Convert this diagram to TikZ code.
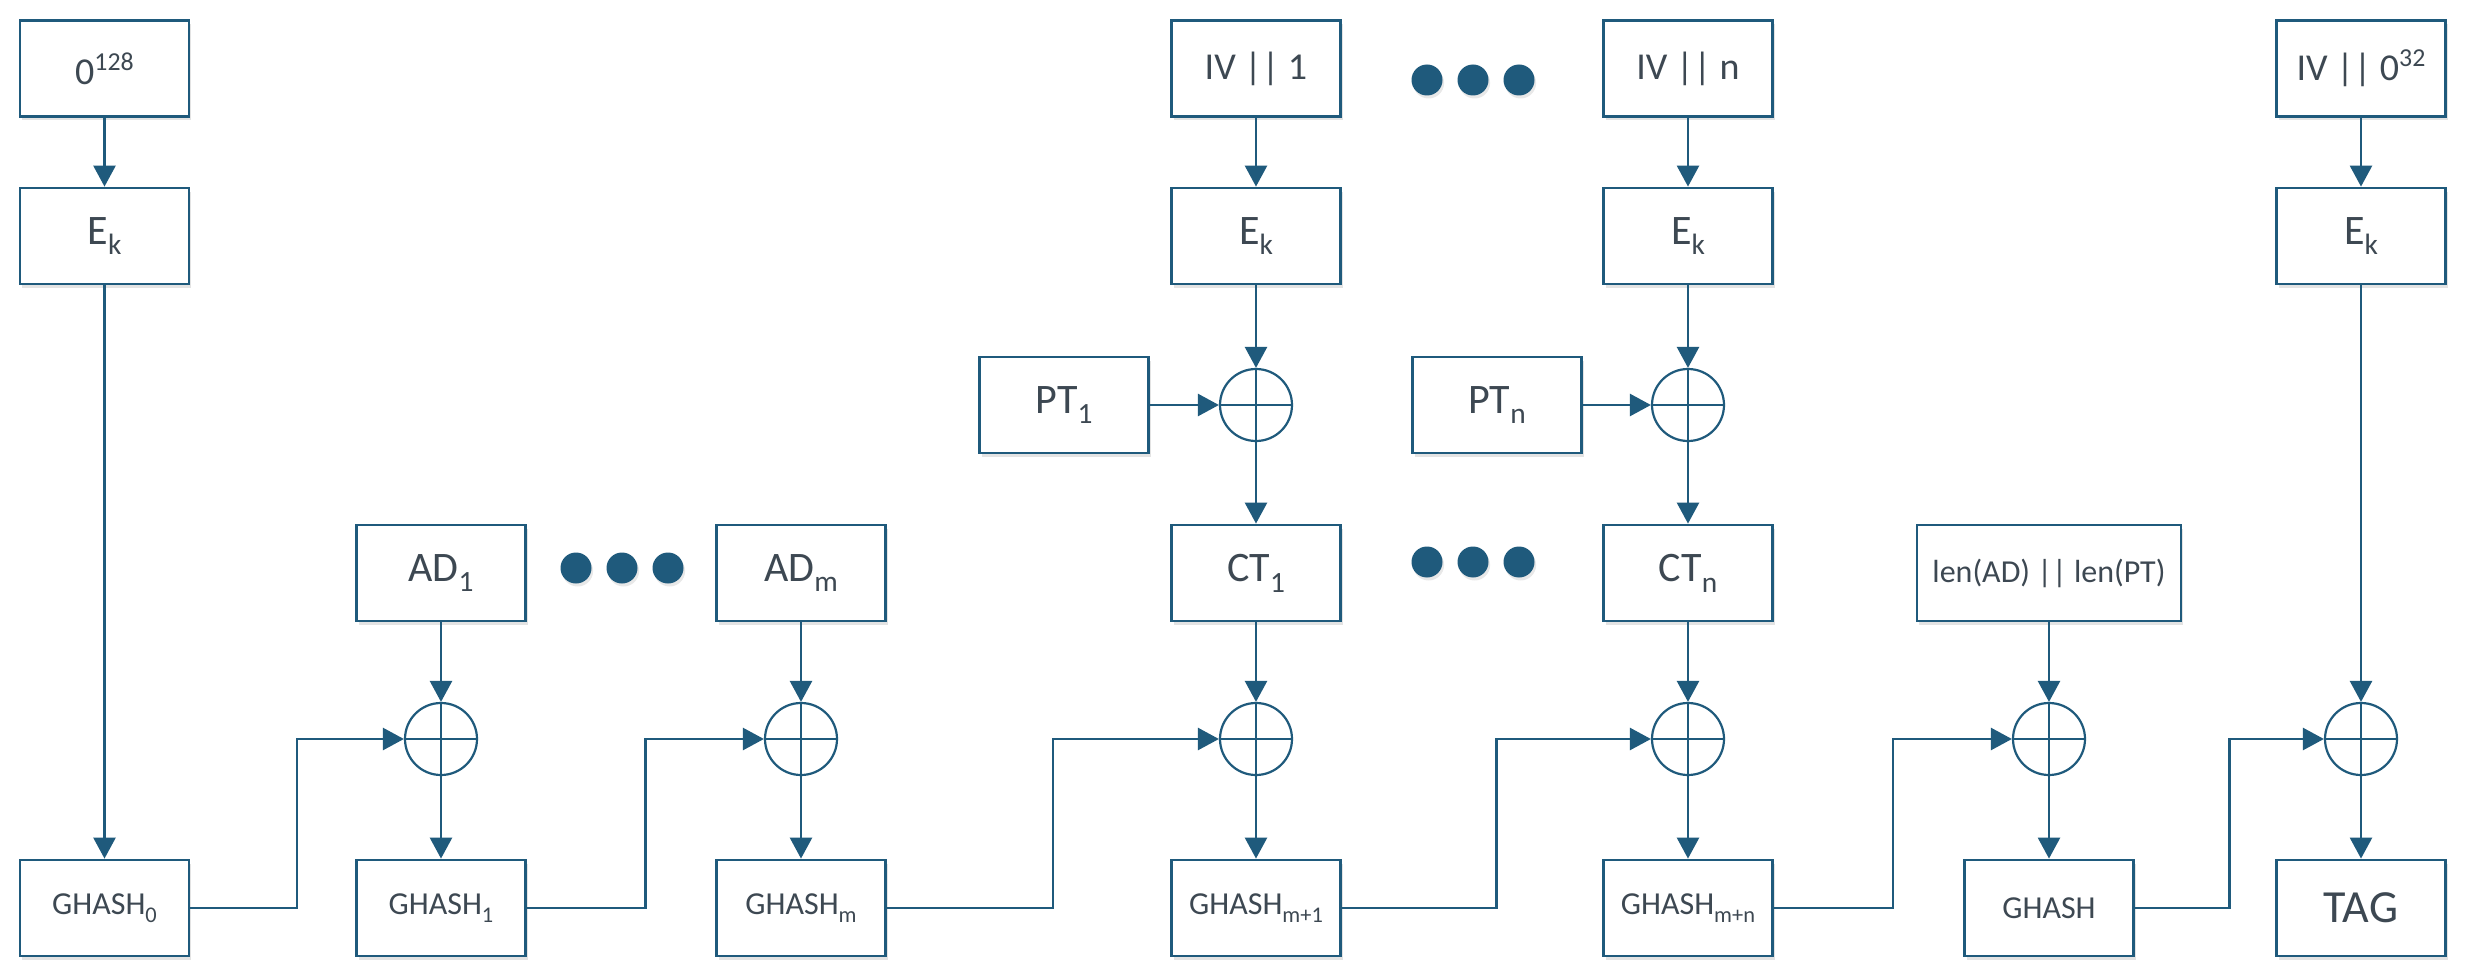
\documentclass[tikz,border=0pt]{standalone}
\usepackage{fontspec}
\usepackage{graphicx}
\setmainfont{Carlito}
\usetikzlibrary{arrows.meta,shadows,calc}
\definecolor{gline}{HTML}{1F5A7C}
\definecolor{gtext}{HTML}{3D4852}
\newcommand\sbt[1]{\raisebox{-0.26em}{\scalebox{0.7}{#1}}}
\newcommand\spt[1]{\raisebox{0.36em}{\scalebox{0.68}{#1}}}
\tikzset{
  blk/.style={draw=gline, line width=1.4pt, fill=white, minimum width=84.5pt, minimum height=48pt,
    inner sep=0pt, text=gtext, font=\fontsize{21pt}{25pt}\selectfont,
    drop shadow={shadow xshift=1pt, shadow yshift=-2pt, opacity=0.18, fill=black!60}},
  midtxt/.style={font=\fontsize{19pt}{23pt}\selectfont},
  smalltxt/.style={font=\fontsize{16pt}{20pt}\selectfont},
  tagtxt/.style={font=\fontsize{23pt}{27pt}\selectfont},
  xr/.style={circle, draw=gline, line width=1.1pt, minimum size=36pt, inner sep=0pt, fill=white,
    path picture={\draw[gline, line width=1.1pt]
      (path picture bounding box.north) -- (path picture bounding box.south)
      (path picture bounding box.west) -- (path picture bounding box.east);}},
  arr/.style={draw=gline, line width=1.3pt, -{Triangle[length=10.5pt,width=11pt]}},
  dotn/.style={circle, fill=gline, minimum size=15.5pt, inner sep=0pt,
    drop shadow={shadow xshift=0.8pt, shadow yshift=-1.5pt, opacity=0.15, fill=black!60}},
}
\begin{document}
\begin{tikzpicture}[x=0.5pt,y=-0.5pt]
\fill[white] (0,0) rectangle (2465,979);
\useasboundingbox (0,0) rectangle (2465,979);

% column 1
\node[blk,midtxt] (z0) at (104.5,68.5) {0\spt{128}};
\node[blk] (e1) at (104.5,236) {E\sbt{k}};
\node[blk,smalltxt] (g0) at (104.5,908) {GHASH\sbt{0}};

% AD columns
\node[blk] (a1) at (441,573) {AD\sbt{1}};
\node[xr] (x2) at (441,739) {};
\node[blk,smalltxt] (g1) at (441,908) {GHASH\sbt{1}};

\node[blk] (am) at (801,573) {AD\sbt{m}};
\node[xr] (x3) at (801,739) {};
\node[blk,smalltxt] (gm) at (801,908) {GHASH\sbt{m}};

% CT column 1
\node[blk] (p1) at (1064,405) {PT\sbt{1}};
\node[blk,midtxt] (iv1) at (1256,68.5) {IV || 1};
\node[blk] (e4) at (1256,236) {E\sbt{k}};
\node[xr] (xa4) at (1256,405) {};
\node[blk] (c1) at (1256,573) {CT\sbt{1}};
\node[xr] (xb4) at (1256,739) {};
\node[blk,smalltxt] (gm1) at (1256,908) {GHASH\sbt{m+1}};

% CT column n
\node[blk] (pn) at (1497,405) {PT\sbt{n}};
\node[blk,midtxt] (ivn) at (1688,68.5) {IV || n};
\node[blk] (e5) at (1688,236) {E\sbt{k}};
\node[xr] (xa5) at (1688,405) {};
\node[blk] (cn) at (1688,573) {CT\sbt{n}};
\node[xr] (xb5) at (1688,739) {};
\node[blk,smalltxt] (gmn) at (1688,908) {GHASH\sbt{m+n}};

% length block
\node[blk,smalltxt,minimum width=132pt] (len) at (2049,573) {len(AD) || len(PT)};
\node[xr] (x6) at (2049,739) {};
\node[blk,smalltxt] (gh) at (2049,908) {GHASH};

% tag column
\node[blk,midtxt] (iv0) at (2361,68.5) {IV || 0\spt{32}};
\node[blk] (e7) at (2361,236) {E\sbt{k}};
\node[xr] (x7) at (2361,739) {};
\node[blk,tagtxt] (tag) at (2361,908) {TAG};

% dots
\node[dotn] (d1) at (1427,80) {};
\node[dotn] (d2) at (1473,80) {};
\node[dotn] (d3) at (1519,80) {};
\node[dotn] (d4) at (576,568) {};
\node[dotn] (d5) at (622,568) {};
\node[dotn] (d6) at (668,568) {};
\node[dotn] (d7) at (1427,562) {};
\node[dotn] (d8) at (1473,562) {};
\node[dotn] (d9) at (1519,562) {};

% vertical connectors
\draw[arr] (z0) -- (e1);
\draw[arr] (e1) -- (g0);
\draw[arr] (a1) -- (x2);
\draw[arr] (x2) -- (g1);
\draw[arr] (am) -- (x3);
\draw[arr] (x3) -- (gm);
\draw[arr] (iv1) -- (e4);
\draw[arr] (e4) -- (xa4);
\draw[arr] (p1) -- (xa4);
\draw[arr] (xa4) -- (c1);
\draw[arr] (c1) -- (xb4);
\draw[arr] (xb4) -- (gm1);
\draw[arr] (ivn) -- (e5);
\draw[arr] (e5) -- (xa5);
\draw[arr] (pn) -- (xa5);
\draw[arr] (xa5) -- (cn);
\draw[arr] (cn) -- (xb5);
\draw[arr] (xb5) -- (gmn);
\draw[arr] (len) -- (x6);
\draw[arr] (x6) -- (gh);
\draw[arr] (iv0) -- (e7);
\draw[arr] (e7) -- (x7);
\draw[arr] (x7) -- (tag);

% chaining connectors
\coordinate (m1) at ($(g0.east)!.5!(x2.west)$);
\coordinate (m2) at ($(g1.east)!.5!(x3.west)$);
\coordinate (m3) at ($(gm.east)!.5!(xb4.west)$);
\coordinate (m4) at ($(gm1.east)!.5!(xb5.west)$);
\coordinate (m5) at ($(gmn.east)!.5!(x6.west)$);
\coordinate (m6) at ($(gh.east)!.5!(x7.west)$);
\draw[arr] (g0.east) -| (m1) |- (x2.west);
\draw[arr] (g1.east) -| (m2) |- (x3.west);
\draw[arr] (gm.east) -| (m3) |- (xb4.west);
\draw[arr] (gm1.east) -| (m4) |- (xb5.west);
\draw[arr] (gmn.east) -| (m5) |- (x6.west);
\draw[arr] (gh.east) -| (m6) |- (x7.west);
\end{tikzpicture}
\end{document}
